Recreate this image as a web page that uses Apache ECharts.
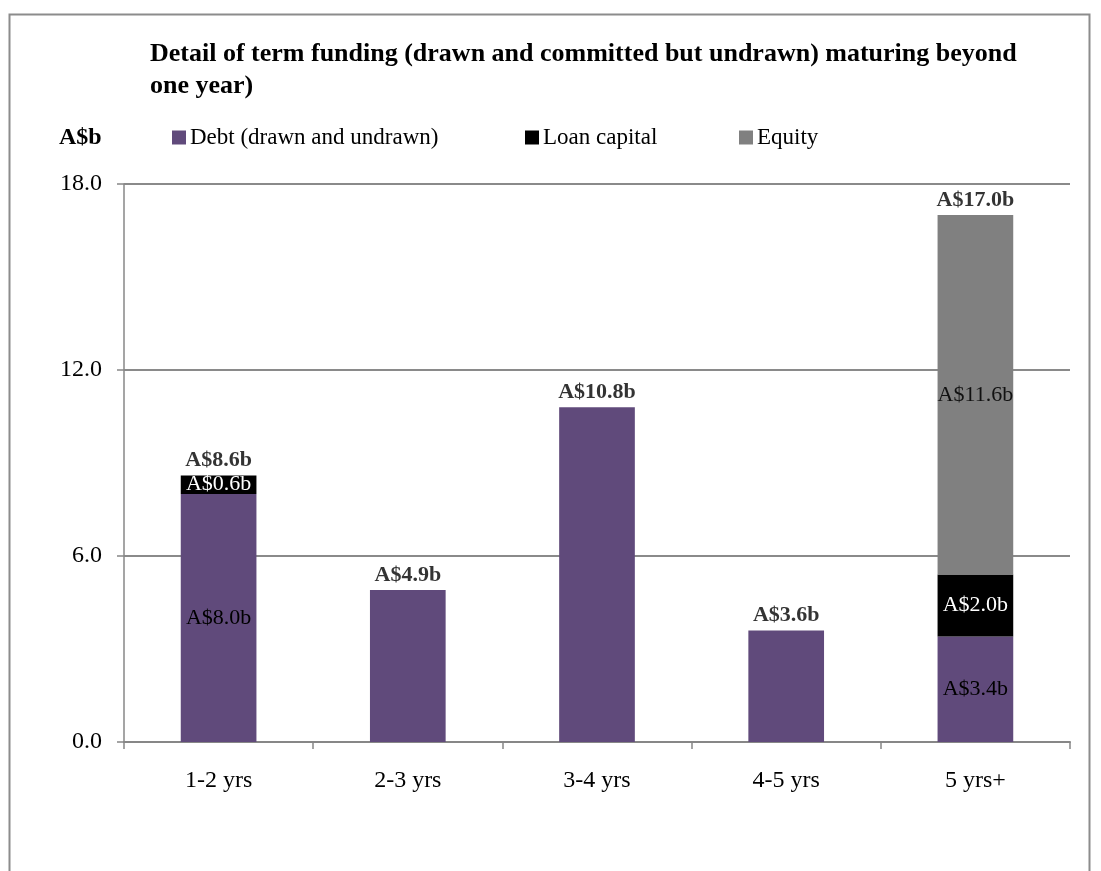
<!DOCTYPE html>
<html>
<head>
<meta charset="utf-8">
<title>Term funding maturity profile</title>
<script src="https://cdn.jsdelivr.net/npm/echarts@6/dist/echarts.min.js"></script>
<style>
  html, body { margin: 0; padding: 0; background: #fff; }
  #chart { width: 1101px; height: 871px; }
</style>
</head>
<body>
<div id="chart"></div>
<script>
// Maturity buckets and funding components (A$ billions)
const categories = ['1-2 yrs', '2-3 yrs', '3-4 yrs', '4-5 yrs', '5 yrs+'];
const debt = [8.0, 4.9, 10.8, 3.6, 3.4];
const loanCapital = [0.6, 0, 0, 0, 2.0];
const equity = [0, 0, 0, 0, 11.6];
const yTicks = [0, 6, 12, 18];

const seriesNames = ['Debt (drawn and undrawn)', 'Loan capital', 'Equity'];
const colors = ['#604a7b', '#000000', '#808080'];

// Total per bucket, shown above each stack
const totals = categories.map((_, i) =>
  Math.round((debt[i] + loanCapital[i] + equity[i]) * 10) / 10);

// Inside labels are only drawn on stacks made of more than one component
const isMixed = categories.map((_, i) => loanCapital[i] > 0 || equity[i] > 0);

const serif = 'Liberation Serif, Times New Roman, serif';
const fmt = v => 'A$' + v.toFixed(1) + 'b';

function stackSeries(name, values, color, labelColor) {
  return {
    name: name,
    type: 'bar',
    stack: 'funding',
    barWidth: '40%',
    itemStyle: { color: color },
    data: values.map((v, i) => ({
      value: v,
      label: { show: isMixed[i] && v > 0 }
    })),
    label: {
      position: 'inside',
      color: labelColor,
      fontFamily: serif,
      fontSize: 22,
      formatter: p => fmt(p.value)
    },
    emphasis: { disabled: true }
  };
}

const chart = echarts.init(document.getElementById('chart'), null, { renderer: 'canvas' });

const legendBase = {
  top: 126,
  orient: 'horizontal',
  itemWidth: 14,
  itemHeight: 14,
  itemGap: 0,
  padding: 0,
  icon: 'rect',
  selectedMode: false,
  textStyle: { fontFamily: serif, fontSize: 23, color: '#000', padding: [0, 0, 0, -1] }
};

chart.setOption({
  animation: false,
  backgroundColor: '#ffffff',
  textStyle: { fontFamily: serif },
  title: {
    text: 'Detail of term funding (drawn and committed but undrawn) maturing beyond\none year)',
    left: 150,
    top: 38,
    padding: 0,
    textStyle: {
      fontFamily: serif,
      fontSize: 26,
      fontWeight: 'bold',
      color: '#000',
      lineHeight: 32
    }
  },
  legend: [
    Object.assign({}, legendBase, { left: 172, data: [seriesNames[0]] }),
    Object.assign({}, legendBase, { left: 525, data: [seriesNames[1]] }),
    Object.assign({}, legendBase, { left: 739, data: [seriesNames[2]] })
  ],
  graphic: [
    {
      type: 'rect',
      silent: true,
      shape: { x: 9.5, y: 14.5, width: 1080, height: 900 },
      style: { fill: 'none', stroke: '#8c8c8c', lineWidth: 2 }
    },
    {
      type: 'text',
      left: 59,
      top: 126,
      silent: true,
      style: {
        text: 'A$b',
        fontFamily: serif,
        fontSize: 24,
        fontWeight: 'bold',
        fill: '#000'
      }
    }
  ],
  grid: { left: 124, right: 31, top: 184, bottom: 129, containLabel: false },
  xAxis: {
    type: 'category',
    data: categories,
    axisLine: { lineStyle: { color: '#878787', width: 2 } },
    axisTick: { show: true, alignWithLabel: false, length: 7, lineStyle: { color: '#878787', width: 1.5 } },
    axisLabel: { color: '#000', fontFamily: serif, fontSize: 24, margin: 27 }
  },
  yAxis: {
    type: 'value',
    min: yTicks[0],
    max: yTicks[yTicks.length - 1],
    interval: yTicks[1] - yTicks[0],
    axisLine: { show: true, lineStyle: { color: '#878787', width: 1.5 } },
    axisTick: { show: true, length: 7, lineStyle: { color: '#878787', width: 1.5 } },
    axisLabel: {
      color: '#000',
      fontFamily: serif,
      fontSize: 24,
      margin: 22,
      formatter: v => v.toFixed(1)
    },
    splitLine: { show: true, lineStyle: { color: '#8a8a8a', width: 2 } }
  },
  series: [
    stackSeries(seriesNames[0], debt, colors[0], '#000'),
    stackSeries(seriesNames[1], loanCapital, colors[1], '#fff'),
    stackSeries(seriesNames[2], equity, colors[2], '#111'),
    {
      name: 'Total',
      type: 'scatter',
      symbolSize: 0,
      data: totals,
      silent: true,
      label: {
        show: true,
        position: 'top',
        distance: 4,
        color: '#000',
        fontFamily: serif,
        fontSize: 22,
        fontWeight: 'bold',
        formatter: p => fmt(p.value)
      },
      z: 5
    }
  ]
});
</script>
</body>
</html>
